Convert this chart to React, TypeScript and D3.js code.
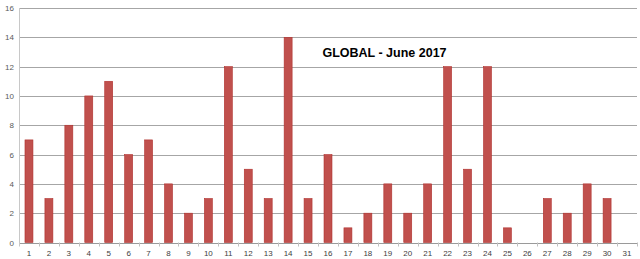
import React from "react";
import * as d3 from "d3";

const days: string[] = Array.from({ length: 31 }, (_, i) => String(i + 1));
const values: number[] = [7, 3, 8, 10, 11, 6, 7, 4, 2, 3, 12, 5, 3, 14, 3, 6, 1, 2, 4, 2, 4, 12, 5, 12, 1, 0, 3, 2, 4, 3, 0];
const yTicks: number[] = [0, 2, 4, 6, 8, 10, 12, 14, 16];
const title = "GLOBAL - June 2017";

export default function App() {
  const W = 640, H = 259;
  const left = 19, right = 637, top = 8, bottom = 242.5;
  const x = d3.scaleBand<string>().domain(days).range([left, right]).paddingInner(0.6).paddingOuter(0.3);
  const xc = d3.scaleBand<string>().domain(days).range([left, right]);
  const y = d3.scaleLinear().domain([0, 16]).range([bottom, top]);
  const font = "'Liberation Sans', Arial, sans-serif";
  return (
    <svg width={W} height={H} style={{ position: "absolute", left: 0, top: 0 }}>
      <rect width={W} height={H} fill="#fff" />
      {yTicks.map((t) => (
        <g key={t}>
          <line x1={left} x2={right} y1={Math.round(y(t)) + 0.5} y2={Math.round(y(t)) + 0.5} stroke={t === 0 ? "#9a9a9a" : "#a6a6a6"} strokeWidth={1} />
          <text x={14} y={y(t) + 3} fontSize={8} fill="#595959" textAnchor="end" fontFamily={font}>{t}</text>
        </g>
      ))}
      <line x1={left + 0.5} x2={left + 0.5} y1={top} y2={bottom + 4} stroke="#c8c8c8" />
      {days.map((d) => (
        <line key={"t" + d} x1={Math.round(xc(d)! + xc.bandwidth()) + 0.5} x2={Math.round(xc(d)! + xc.bandwidth()) + 0.5} y1={bottom} y2={bottom + 4} stroke="#c0c0c0" />
      ))}
      {days.map((d, i) => (
        <rect key={d} x={x(d)!} y={y(values[i])} width={x.bandwidth()} height={y(0) - y(values[i])} fill="#C0504D" stroke="#B0302D" strokeWidth={0.6} />
      ))}
      {days.map((d) => (
        <text key={"l" + d} x={xc(d)! + xc.bandwidth() / 2} y={256} fontSize={8} fill="#404040" textAnchor="middle" fontFamily={font}>{d}</text>
      ))}
      <text x={384.5} y={56.5} fontSize={12.5} fontWeight="bold" textAnchor="middle" fill="#000" fontFamily={font}>{title}</text>
    </svg>
  );
}
